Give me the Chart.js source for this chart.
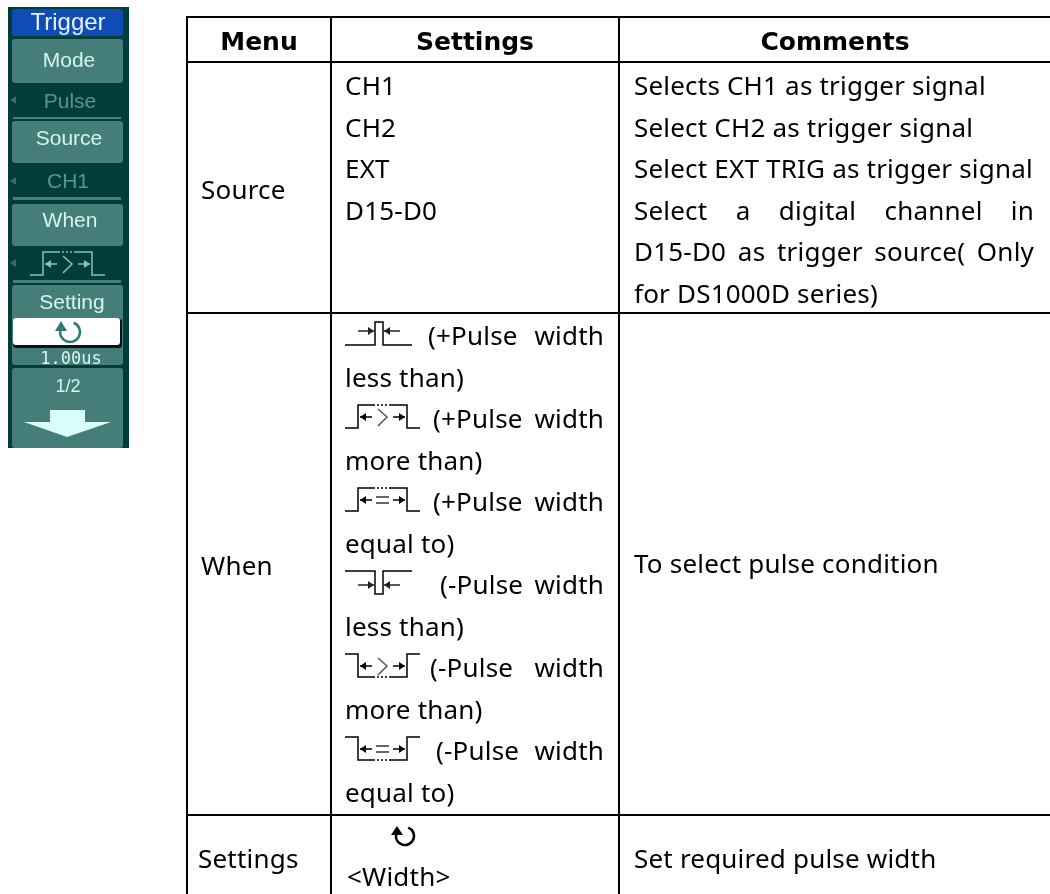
<!DOCTYPE html>
<html>
<head>
<meta charset="utf-8">
<title>Trigger pulse menu</title>
<script src="https://cdn.jsdelivr.net/npm/chart.js@4"></script>
<style>
  html, body { margin: 0; padding: 0; background: #fff; }
  canvas { display: block; }
</style>
</head>
<body>
<canvas id="chart" width="1050" height="894"></canvas>
<script>
// --- table content ---
const columnHeaders = ['Menu', 'Settings', 'Comments'];
const menuItems = ['Source', 'When', 'Settings'];
const sourceSettings = ['CH1', 'CH2', 'EXT', 'D15-D0'];
const sourceComments = [
  'Selects CH1 as trigger signal',
  'Select CH2 as trigger signal',
  'Select EXT TRIG as trigger signal',
  'Select a digital channel in',
  'D15-D0 as trigger source( Only',
  'for DS1000D series)'
];
const whenSettings = [
  '(+Pulse width', 'less than)',
  '(+Pulse width', 'more than)',
  '(+Pulse width', 'equal to)',
  '(-Pulse width', 'less than)',
  '(-Pulse width', 'more than)',
  '(-Pulse width', 'equal to)'
];
const whenComment = 'To select pulse condition';
const settingsValue = '<Width>';
const settingsComment = 'Set required pulse width';

// --- scope menu content ---
const panelTitle = 'Trigger';
const panelButtons = ['Mode', 'Source', 'When', 'Setting', '1/2'];
const panelValues = ['Pulse', 'CH1'];
const panelReadout = '1.00us';

// --- layout, in page pixels ---
const W = 1050, H = 894;
const colX = [187, 331, 619];
const rowY = [17, 62, 313, 815];
const bodyFont = '26px "Noto Sans"';
const headFont = 'bold 25px "DejaVu Sans"';
const lineStep = 41.5;
const settingsX = 345, settingsRight = 604;
const commentX = 634, commentRight = 1034;
const whenTextX = [428, 0, 433, 0, 433, 0, 440, 0, 430, 0, 436, 0];
const justifiedComments = [3, 4];

function rule(x1, y1, x2, y2) {
  return { data: [{ x: x1, y: y1 }, { x: x2, y: y2 }], showLine: true, borderColor: '#000', borderWidth: 2, pointRadius: 0 };
}

const gridLines = [
  ...rowY.map(y => rule(colX[0] - 1, y, W, y)),
  ...colX.map(x => rule(x, rowY[0], x, H))
];

// Draws the text, the pulse icons and the scope menu on top of the scales
const tablePlugin = {
  id: 'tablePlugin',
  afterDatasetsDraw(chart) {
    const ctx = chart.ctx;
    const sx = v => chart.scales.x.getPixelForValue(v);
    const sy = v => chart.scales.y.getPixelForValue(v);

    function text(str, x, y, font, color, align) {
      ctx.font = font;
      ctx.letterSpacing = font === bodyFont ? '0.2px' : '0px';
      ctx.fillStyle = color || '#000';
      ctx.textAlign = align || 'left';
      ctx.textBaseline = 'alphabetic';
      ctx.fillText(str, sx(x), sy(y));
    }

    function justified(str, x, right, y) {
      ctx.font = bodyFont;
      ctx.letterSpacing = '0.2px';
      ctx.wordSpacing = '0px';
      const gaps = str.split(' ').length - 1;
      const extra = (right - x - ctx.measureText(str).width) / gaps;
      ctx.wordSpacing = extra + 'px';
      text(str, x, y, bodyFont);
      ctx.wordSpacing = '0px';
    }

    function seg(points, color, width, dash) {
      ctx.beginPath();
      points.forEach((p, i) => i ? ctx.lineTo(sx(p[0]), sy(p[1])) : ctx.moveTo(sx(p[0]), sy(p[1])));
      ctx.strokeStyle = color || '#000';
      ctx.lineWidth = width || 1.5;
      ctx.setLineDash(dash || []);
      ctx.stroke();
      ctx.setLineDash([]);
    }

    function tri(points, color) {
      ctx.beginPath();
      points.forEach((p, i) => i ? ctx.lineTo(sx(p[0]), sy(p[1])) : ctx.moveTo(sx(p[0]), sy(p[1])));
      ctx.closePath();
      ctx.fillStyle = color || '#000';
      ctx.fill();
    }

    function arrow(x1, x2, y, color) {
      seg([[x1, y], [x2, y]], color);
      const d = x2 > x1 ? 1 : -1;
      tri([[x2, y], [x2 - d * 6, y - 4], [x2 - d * 6, y + 4]], color);
    }

    // narrow pulse with the arrows pointing at it, dir = 1 for positive, -1 for negative
    function narrowIcon(x, y, dir) {
      const top = y - 23;
      if (dir > 0) seg([[x, y], [x + 30, y], [x + 30, top], [x + 38, top], [x + 38, y], [x + 67, y]]);
      else seg([[x, top], [x + 30, top], [x + 30, y], [x + 38, y], [x + 38, top], [x + 67, top]]);
      arrow(x + 13, x + 29, y - 14 + (dir < 0 ? 5 : 0), '#222');
      arrow(x + 55, x + 39, y - 14 + (dir < 0 ? 5 : 0), '#222');
    }

    // wide pulse with a dotted flat part and a ">" or "=" sign in the middle
    function wideIcon(x, y, dir, sign, color) {
      const top = y - 23;
      const c = color || '#000';
      const flat = dir > 0 ? top : y;
      const rail = dir > 0 ? y : top;
      seg([[x, rail], [x + 13, rail], [x + 13, flat], [x + 28, flat]], c);
      seg([[x + 45, flat], [x + 62, flat], [x + 62, rail], [x + 75, rail]], c);
      seg([[x + 28, flat], [x + 45, flat]], c, 1.5, [2, 2]);
      arrow(x + 27, x + 15, y - 11, c);
      arrow(x + 48, x + 60, y - 11, c);
      if (sign === '>') seg([[x + 33, y - 19], [x + 42, y - 11], [x + 33, y - 2]], color || '#555');
      else { seg([[x + 31, y - 14], [x + 44, y - 14]], '#333'); seg([[x + 31, y - 8], [x + 44, y - 8]], '#333'); }
    }

    function spinner(cx, cy, r, color) {
      ctx.beginPath();
      ctx.arc(sx(cx), sy(cy), r, -1.2, 3.3);
      ctx.strokeStyle = color;
      ctx.lineWidth = 2.6;
      ctx.stroke();
      tri([[cx - r - 5, cy - 1], [cx - r + 1, cy - r - 1], [cx - r + 7, cy - 1]], color);
    }

    // header row
    text(columnHeaders[0], 259, 50, headFont, '#000', 'center');
    text(columnHeaders[1], 475, 50, headFont, '#000', 'center');
    text(columnHeaders[2], 835, 50, headFont, '#000', 'center');

    // menu column
    text(menuItems[0], 201, 199, bodyFont);
    text(menuItems[1], 201, 575, bodyFont);
    text(menuItems[2], 198, 868, bodyFont);

    // settings column
    sourceSettings.forEach((s, i) => text(s, settingsX, 95 + i * lineStep, bodyFont));
    whenSettings.forEach((s, i) => {
      const y = 345 + i * lineStep;
      if (whenTextX[i]) justified(s, whenTextX[i], settingsRight, y);
      else text(s, settingsX, y, bodyFont);
    });
    narrowIcon(345, 345, 1);
    wideIcon(345, 428, 1, '>');
    wideIcon(345, 511, 1, '=');
    narrowIcon(345, 594, -1);
    wideIcon(345, 677, -1, '>');
    wideIcon(345, 760, -1, '=');
    spinner(405, 836, 9, '#000');
    text(settingsValue, 347, 886, bodyFont);

    // comments column
    sourceComments.forEach((s, i) => {
      const y = 95 + i * lineStep;
      if (justifiedComments.includes(i)) justified(s, commentX, commentRight, y);
      else text(s, commentX, y, bodyFont);
    });
    text(whenComment, commentX, 573, bodyFont);
    text(settingsComment, commentX, 868, bodyFont);

    // scope menu, slightly soft like the screenshot it comes from
    const rect = (x, y, w, h, color) => { ctx.fillStyle = color; ctx.fillRect(sx(x), sy(y), w, h); };
    const btn = (y0, y1) => {
      ctx.beginPath();
      ctx.roundRect(sx(12), sy(y0), 111, y1 - y0, 3);
      ctx.fillStyle = '#457d78';
      ctx.fill();
    };
    const light = '#d5f5ef', dim = '#4d9a90';
    const panelFont = '21px "Liberation Sans"';

    ctx.save();
    ctx.filter = 'blur(0.5px)';
    rect(8, 7, 121, 441, '#033d3b');
    ctx.beginPath();
    ctx.roundRect(sx(12), sy(9), 111, 27, 3);
    ctx.fillStyle = '#0f4db5';
    ctx.fill();
    text(panelTitle, 68, 30, '24px "Liberation Sans"', '#e6f0ff', 'center');

    btn(39, 83); btn(121, 163); btn(204, 246); btn(285, 365); btn(368, 448);
    rect(13, 117, 108, 2, '#467e78');
    rect(13, 197, 108, 3, '#467e78');
    rect(13, 280, 108, 3, '#467e78');

    text(panelButtons[0], 69, 67, panelFont, light, 'center');
    text(panelValues[0], 70, 108, panelFont, dim, 'center');
    text(panelButtons[1], 69, 145, panelFont, light, 'center');
    text(panelValues[1], 68, 188, panelFont, dim, 'center');
    text(panelButtons[2], 70, 227, panelFont, light, 'center');
    text(panelButtons[3], 72, 309, panelFont, light, 'center');
    text(panelButtons[4], 68, 392, '18px "Liberation Sans"', light, 'center');
    text(panelReadout, 71, 364, '17px "DejaVu Sans Mono"', light, 'center');

    tri([[10, 100], [16, 96], [16, 104]], '#3b6b66');
    tri([[10, 181], [16, 177], [16, 185]], '#3b6b66');
    tri([[10, 263], [16, 259], [16, 267]], '#3b6b66');
    wideIcon(30, 275, 1, '>', '#7fc4ba');

    ctx.beginPath();
    ctx.roundRect(sx(13), sy(319), 109, 29, 3);
    ctx.fillStyle = '#111';
    ctx.fill();
    ctx.beginPath();
    ctx.roundRect(sx(13), sy(318), 107, 27, 3);
    ctx.fillStyle = '#fff';
    ctx.fill();
    spinner(70, 332, 10, '#2f7a72');

    tri([[50, 410], [85, 410], [85, 422], [111, 422], [67, 437], [24, 422], [50, 422]], '#d8fffa');
    ctx.restore();
  }
};

new Chart(document.getElementById('chart'), {
  type: 'scatter',
  data: { datasets: gridLines },
  options: {
    responsive: false,
    animation: false,
    layout: { padding: 0 },
    plugins: { legend: { display: false }, tooltip: { enabled: false } },
    scales: {
      x: { type: 'linear', min: 0, max: W, display: false },
      y: { type: 'linear', min: 0, max: H, reverse: true, display: false }
    }
  },
  plugins: [tablePlugin]
});
</script>
</body>
</html>
